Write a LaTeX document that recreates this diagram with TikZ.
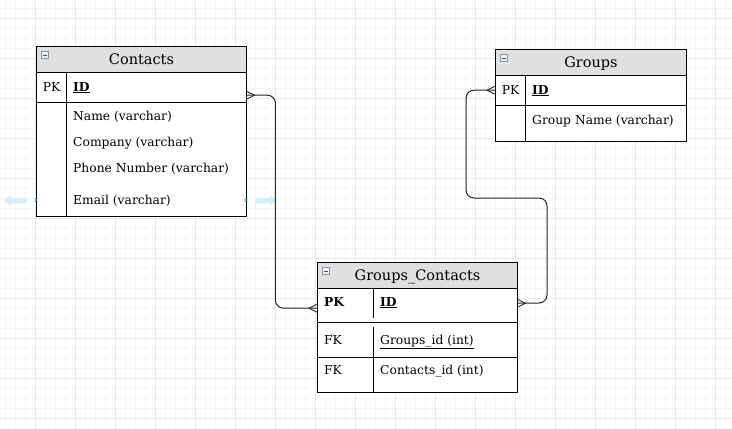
\documentclass[tikz,border=0pt]{standalone}
\usepackage{fontspec}
\setmainfont{DejaVu Serif}
\usetikzlibrary{calc}
\definecolor{gridminor}{HTML}{F5F5F5}
\definecolor{gridmajor}{HTML}{E8E8E8}
\definecolor{hdrgray}{HTML}{E0E0E0}
\definecolor{hintblue}{HTML}{D5ECFB}
\definecolor{markblue}{HTML}{2F8FDD}
\definecolor{iconborder}{HTML}{8898AA}
\definecolor{iconfill}{HTML}{EEF2F7}
\begin{document}
\begin{tikzpicture}[x=1pt,y=-1pt,
  tbl/.style={draw=black, line width=1pt, fill=white, rectangle, inner sep=0pt, anchor=north west},
  hdr/.style={draw=black, line width=1pt, fill=hdrgray, rectangle, inner sep=0pt, anchor=north west, text height=12pt, text depth=2pt, font=\fontsize{14.5}{16}\selectfont},
  rowbox/.style={rectangle, inner sep=0pt, anchor=north west},
  txt/.style={anchor=west, inner sep=0pt, text height=10pt, text depth=2pt, font=\fontsize{12.3}{14}\selectfont},
  ctxt/.style={anchor=center, inner sep=0pt, text height=10pt, text depth=2pt, font=\fontsize{12.3}{14}\selectfont},
  sep/.style={draw=black, line width=1pt},
  conn/.style={draw=black!85, line width=1pt, rounded corners=8pt},
  crow/.pic={\draw[black!85, line width=0.9pt] (0,-4) -- (8,0) -- (0,4);},
  icon/.style={draw=iconborder, fill=iconfill, line width=0.8pt},
  iconminus/.style={draw=black!70, line width=0.9pt},
  hint/.style={fill=hintblue},
  xmark/.style={draw=markblue, line width=0.6pt},
]
\useasboundingbox (0,0) rectangle (732,429);
\fill[white] (0,0) rectangle (732,429);
% grid
\foreach \x in {5,15,...,735} \draw[gridminor, line width=0.8pt] (\x,0) -- (\x,429);
\foreach \y in {8,18,...,428} \draw[gridminor, line width=0.8pt] (0,\y) -- (732,\y);
\foreach \x in {35,75,...,735} \draw[gridmajor, line width=0.8pt] (\x,0) -- (\x,429);
\foreach \y in {18,58,...,418} \draw[gridmajor, line width=0.8pt] (0,\y) -- (732,\y);

% hint arrows (behind connectors)
\fill[hint] (27,198) -- (11,198) -- (11,195) -- (4,200.5) -- (11,206) -- (11,203) -- (27,203) -- cycle;
\fill[hint] (255,198) -- (270,198) -- (270,195) -- (277,200.5) -- (270,206) -- (270,203) -- (255,203) -- cycle;

% ---------- Contacts ----------
\node[tbl, minimum width=210pt, minimum height=170pt] (contacts) at (36,46) {};
\node[hdr, minimum width=210pt, minimum height=26pt] (contactsH) at (36,46) {Contacts};
\node[rowbox, minimum width=210pt, minimum height=30pt] (cpk) at (36,72) {};
\draw[sep] (cpk.south west) -- (cpk.south east);
\draw[sep] (66,72) -- (66,216);
\draw[icon] (41.5,51.5) rectangle (48.5,58.5);
\draw[iconminus] (43,55) -- (47,55);
\node[ctxt] (cpkL) at (51.5,87) {PK};
\node[txt] (cid) at (73,87) {\textbf{\underline{ID}}};
\node[txt] (cname) at (73,116) {Name (varchar)};
\node[txt] (ccomp) at (73,142) {Company (varchar)};
\node[txt] (cphone) at (73,168) {Phone Number (varchar)};
\node[txt] (cmail) at (73,200) {Email (varchar)};

% ---------- Groups ----------
\node[tbl, minimum width=191pt, minimum height=92pt] (groups) at (495,49) {};
\node[hdr, minimum width=191pt, minimum height=26pt] (groupsH) at (495,49) {Groups};
\node[rowbox, minimum width=191pt, minimum height=30pt] (gpk) at (495,75) {};
\draw[sep] (gpk.south west) -- (gpk.south east);
\draw[sep] (525,75) -- (525,141);
\draw[icon] (500.5,54.5) rectangle (507.5,61.5);
\draw[iconminus] (502,58) -- (506,58);
\node[ctxt] (gpkL) at (510.5,90) {PK};
\node[txt] (gid) at (532,90) {\textbf{\underline{ID}}};
\node[txt] (gname) at (532,120) {Group Name (varchar)};

% ---------- Groups_Contacts ----------
\node[tbl, minimum width=200pt, minimum height=130pt] (gc) at (317,262) {};
\node[hdr, minimum width=200pt, minimum height=26pt] (gcH) at (317,262) {Groups\_Contacts};
\node[rowbox, minimum width=200pt, minimum height=34pt] (gcpk) at (317,288) {};
\node[rowbox, minimum width=200pt, minimum height=35pt] (gcfk1) at (317,322) {};
\draw[sep] (gcpk.south west) -- (gcpk.south east);
\draw[sep] (gcfk1.south west) -- (gcfk1.south east);
\draw[sep] (373,288) -- (373,318);
\draw[sep] (373,327) -- (373,392);
\draw[icon] (322.5,267.5) rectangle (329.5,274.5);
\draw[iconminus] (324,271) -- (328,271);
\node[txt] (gcpkL) at (324,302) {\textbf{PK}};
\node[txt] (gcid) at (380,302) {\textbf{\underline{ID}}};
\node[txt] (gcfk1L) at (324,340) {FK};
\node[txt] (gcgid) at (380,340) {\underline{Groups\_id (int)}};
\node[txt] (gcfk2L) at (324,370) {FK};
\node[txt] (gccid) at (380,370) {Contacts\_id (int)};

% x markers
\draw[xmark] (34.5,198.5) -- (37.5,201.5) (34.5,201.5) -- (37.5,198.5);
\draw[xmark] (244.5,198.5) -- (247.5,201.5) (244.5,201.5) -- (247.5,198.5);

% ---------- connectors ----------
\draw[conn] ([yshift=-8pt]cpk.east) -- ++(29,0) |- ([yshift=-3pt]gcpk.west);
\draw[conn] (gpk.west) -| (466,198) -| (547,303) -- ([yshift=2pt]gcpk.east);
\pic at ([yshift=-8pt]cpk.east) {crow};
\pic[rotate=180] at ([yshift=-3pt]gcpk.west) {crow};
\pic[rotate=180] at (gpk.west) {crow};
\pic at ([yshift=2pt]gcpk.east) {crow};
\end{tikzpicture}
\end{document}
